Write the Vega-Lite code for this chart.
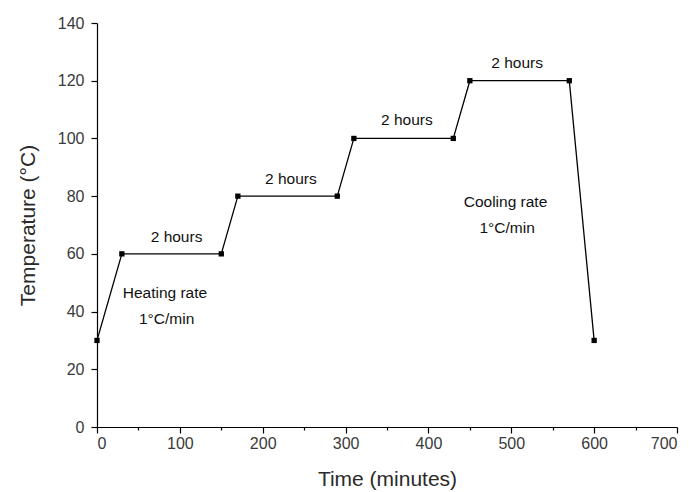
{
  "$schema": "https://vega.github.io/schema/vega-lite/v6.json",
  "width": 580,
  "height": 404,
  "autosize": {"type": "none"},
  "padding": {"left": 97, "top": 23, "right": 12, "bottom": 65},
  "background": "white",
  "config": {
    "view": {"stroke": null},
    "font": "Liberation Sans",
    "axis": {
      "grid": false,
      "domainColor": "#000",
      "domainWidth": 1.2,
      "tickColor": "#000",
      "tickWidth": 1.2,
      "labelFont": "Liberation Sans",
      "labelFontSize": 16,
      "labelColor": "#3a3a3a",
      "titleFont": "Liberation Sans",
      "titleFontSize": 21,
      "titleFontWeight": "normal",
      "titleColor": "#2a2a2a"
    }
  },
  "datasets": {
    "profile": [
      {"time": 0, "temp": 30},
      {"time": 30, "temp": 60},
      {"time": 150, "temp": 60},
      {"time": 170, "temp": 80},
      {"time": 290, "temp": 80},
      {"time": 310, "temp": 100},
      {"time": 430, "temp": 100},
      {"time": 450, "temp": 120},
      {"time": 570, "temp": 120},
      {"time": 600, "temp": 30}
    ],
    "notes": [
      {"time": 96, "temp": 66, "label": "2 hours"},
      {"time": 234, "temp": 86, "label": "2 hours"},
      {"time": 374, "temp": 106.5, "label": "2 hours"},
      {"time": 507, "temp": 126, "label": "2 hours"},
      {"time": 82, "temp": 46.5, "label": "Heating rate"},
      {"time": 84, "temp": 37.5, "label": "1°C/min"},
      {"time": 493, "temp": 78, "label": "Cooling rate"},
      {"time": 495, "temp": 69, "label": "1°C/min"}
    ]
  },
  "layer": [
    {
      "data": {"name": "profile"},
      "mark": {"type": "line", "color": "#000", "strokeWidth": 1.3},
      "encoding": {
        "x": {
          "field": "time",
          "type": "quantitative",
          "scale": {"domain": [0, 700], "nice": false},
          "axis": {
            "title": "Time (minutes)",
            "values": [0, 50, 100, 150, 200, 250, 300, 350, 400, 450, 500, 550, 600, 650, 700],
            "labelExpr": "datum.value % 100 === 0 ? datum.label : ''",
            "tickSize": {"condition": {"test": "datum.value % 100 === 0", "value": 6}, "value": 3},
            "labelPadding": 2,
            "titlePadding": 17
          }
        },
        "y": {
          "field": "temp",
          "type": "quantitative",
          "scale": {"domain": [0, 140], "nice": false},
          "axis": {
            "title": "Temperature (°C)",
            "values": [0, 10, 20, 30, 40, 50, 60, 70, 80, 90, 100, 110, 120, 130, 140],
            "labelExpr": "datum.value % 20 === 0 ? datum.label : ''",
            "tickSize": {"condition": {"test": "datum.value % 20 === 0", "value": 6}, "value": 3},
            "labelPadding": 7,
            "titlePadding": 19
          }
        }
      }
    },
    {
      "data": {"name": "profile"},
      "mark": {"type": "point", "shape": "square", "filled": true, "color": "#000", "size": 28, "opacity": 1},
      "encoding": {
        "x": {"field": "time", "type": "quantitative"},
        "y": {"field": "temp", "type": "quantitative"}
      }
    },
    {
      "data": {"name": "notes"},
      "mark": {"type": "text", "font": "Liberation Sans", "fontSize": 15.5, "color": "#111", "align": "center", "baseline": "middle"},
      "encoding": {
        "x": {"field": "time", "type": "quantitative"},
        "y": {"field": "temp", "type": "quantitative"},
        "text": {"field": "label"}
      }
    }
  ]
}
